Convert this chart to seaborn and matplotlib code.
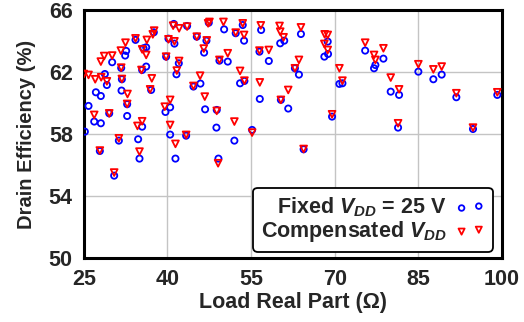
import matplotlib
matplotlib.use("Agg")
import matplotlib.pyplot as plt
import seaborn as sns
import pandas as pd

# Drain efficiency versus load real part, fixed supply
fixed_r = [41.14, 43.52, 47.41, 50.16, 37.55, 34.27, 35.70, 36.18, 40.18, 41.25,
           45.26, 46.57, 46.99, 39.76, 42.03, 49.32, 50.81, 41.61, 32.59, 32.41,
           30.08, 31.70, 35.46, 36.18, 28.77, 29.13, 31.82, 27.16, 28.05, 31.76,
           37.07, 25.84, 32.77, 29.55, 32.77, 26.86, 28.05, 40.48, 39.64, 46.75,
           45.91, 44.66, 48.84, 48.78, 25.18, 35.46, 40.48, 43.35, 31.28, 34.74,
           27.87, 34.98, 41.43, 49.14, 30.44,
           52.24, 53.74, 53.50, 53.02, 53.80, 52.00, 55.18, 56.50, 58.18, 56.80,
           56.56, 60.22, 60.94, 60.34, 61.66, 63.94, 62.86, 63.58, 64.42, 68.14,
           68.80, 68.74, 69.52, 70.84, 71.38, 75.46,
           77.05, 77.29, 78.73, 80.04, 81.54, 81.36, 85.00, 87.69, 89.18, 91.81,
           94.80, 99.16]
fixed_eff = [65.12, 64.99, 65.20, 64.77, 64.58, 64.09, 63.55, 63.61, 64.17, 63.85,
             64.30, 63.27, 64.04, 63.01, 62.58, 62.75, 62.69, 61.87, 63.38, 63.08,
             62.65, 62.28, 62.15, 62.37, 61.89, 61.18, 61.55, 60.71, 60.47, 60.82,
             60.86, 59.83, 59.94, 59.35, 59.18, 58.82, 58.71, 59.74, 59.44, 59.61,
             61.27, 61.08, 59.57, 58.43, 58.17, 58.49, 57.98, 57.91, 57.59, 57.68,
             56.92, 56.43, 56.43, 56.43, 55.33,
             64.52, 64.04, 65.05, 61.29, 61.44, 57.59, 58.28, 63.33, 62.73, 64.73,
             60.28, 63.87, 64.04, 60.22, 59.66, 64.47, 62.26, 61.85, 57.03, 63.01,
             63.18, 63.98, 59.14, 61.25, 61.29, 63.40,
             62.26, 62.47, 62.88, 60.75, 60.54, 58.43, 62.04, 61.55, 61.85, 60.39,
             58.34, 60.54]

# Drain efficiency versus load real part, compensated supply
comp_r = [41.02, 42.09, 43.52, 47.29, 47.53, 50.04, 37.61, 37.37, 34.27, 36.30,
          32.47, 35.46, 36.18, 40.18, 41.25, 45.26, 46.51, 47.05, 39.76, 42.09,
          49.32, 50.81, 41.67, 31.64, 28.05, 28.65, 30.08, 31.70, 35.34, 25.00,
          25.84, 27.04, 28.11, 29.13, 31.82, 37.19, 32.83, 36.89, 32.77, 29.55,
          26.86, 39.52, 40.48, 46.69, 45.85, 44.66, 48.84, 34.62, 35.46, 40.48,
          43.35, 31.28, 27.87, 34.98, 41.43, 49.08, 30.44,
          52.24, 53.74, 53.50, 53.02, 53.80, 52.00, 55.18, 56.50, 58.18, 56.74,
          56.56, 60.10, 60.22, 60.82, 60.34, 61.66, 63.94, 62.86, 63.58, 64.42,
          68.20, 68.74, 68.14, 68.74, 69.52, 70.84, 71.38, 75.46,
          77.05, 77.29, 78.73, 80.04, 81.54, 81.36, 85.00, 87.69, 89.18, 91.81,
          94.80, 99.16]
comp_eff = [65.01, 64.84, 64.95, 65.16, 65.25, 65.25, 64.69, 64.45, 64.19, 64.09,
            63.91, 63.48, 63.12, 64.13, 64.00, 64.30, 63.53, 64.06, 63.01, 62.73,
            62.80, 63.23, 62.11, 63.40, 62.69, 63.05, 63.08, 62.30, 62.15, 61.89,
            61.83, 61.55, 61.68, 61.42, 61.57, 61.61, 60.60, 60.90, 59.96, 59.35,
            59.25, 59.78, 60.22, 60.43, 61.78, 61.12, 59.51, 58.54, 58.84, 58.60,
            57.96, 57.74, 56.95, 56.88, 57.38, 56.13, 55.53,
            64.56, 64.41, 65.16, 62.09, 61.46, 58.82, 58.11, 63.40, 63.44, 65.03,
            61.35, 64.99, 64.62, 64.26, 60.22, 60.86, 64.90, 62.26, 62.80, 57.05,
            64.45, 64.41, 63.83, 63.44, 59.29, 62.26, 61.46, 63.91,
            63.12, 62.80, 63.55, 61.66, 60.90, 58.71, 62.52, 62.19, 62.37, 60.65,
            58.43, 60.71]

x_ticks = [25, 40, 55, 70, 85, 100]
y_ticks = [50, 54, 58, 62, 66]

fixed_df = pd.DataFrame({"r": fixed_r, "eff": fixed_eff})
comp_df = pd.DataFrame({"r": comp_r, "eff": comp_eff})

sns.set_style("white")
plt.rcParams["font.family"] = ["Liberation Sans", "DejaVu Sans"]
plt.rcParams["font.weight"] = "bold"
plt.rcParams["mathtext.fontset"] = "custom"
plt.rcParams["mathtext.rm"] = "Liberation Sans:bold"
plt.rcParams["mathtext.bf"] = "Liberation Sans:bold"
plt.rcParams["mathtext.it"] = "Liberation Sans:bold:italic"

fig = plt.figure(figsize=(5.24, 3.22), dpi=100)
ax = fig.add_axes([0.160, 0.198, 0.798, 0.770])

sns.scatterplot(data=fixed_df, x="r", y="eff", ax=ax, marker="o", s=20,
                facecolor="none", edgecolor="#0000ff", linewidth=1.3,
                label=r"Fixed $V_{DD}$ = 25 V", zorder=3)
sns.scatterplot(data=comp_df, x="r", y="eff", ax=ax, marker="v", s=24,
                facecolor="none", edgecolor="#ff0000", linewidth=1.3,
                label=r"Compensated $V_{DD}$", zorder=4)

ax.set_xlim(25, 100)
ax.set_ylim(50, 66)
ax.set_xticks(x_ticks)
ax.set_yticks(y_ticks)
ax.grid(True, color="#c4c4c4", linewidth=1.0)
ax.set_axisbelow(True)
ax.tick_params(length=0, labelsize=15.5, pad=8)
for lab in ax.get_xticklabels() + ax.get_yticklabels():
    lab.set_fontweight("bold")
for sp in ax.spines.values():
    sp.set_color("black")
    sp.set_linewidth(2.2)

ax.set_xlabel("Load Real Part (Ω)", fontsize=15.5, fontweight="bold", labelpad=1)
ax.set_ylabel("Drain Efficiency (%)", fontsize=14.5, fontweight="bold", labelpad=9)

leg = ax.legend(loc="lower right", bbox_to_anchor=(0.978, 0.026), borderaxespad=0,
                markerfirst=False, scatterpoints=2, markerscale=0.9,
                handlelength=1.4, handletextpad=0.4, labelspacing=0.0,
                borderpad=0.35, fancybox=True, framealpha=1,
                prop={"size": 15.5, "weight": "bold"})
leg.get_frame().set_edgecolor("black")
leg.get_frame().set_linewidth(1.3)

fig.savefig("out.png", dpi=100)
